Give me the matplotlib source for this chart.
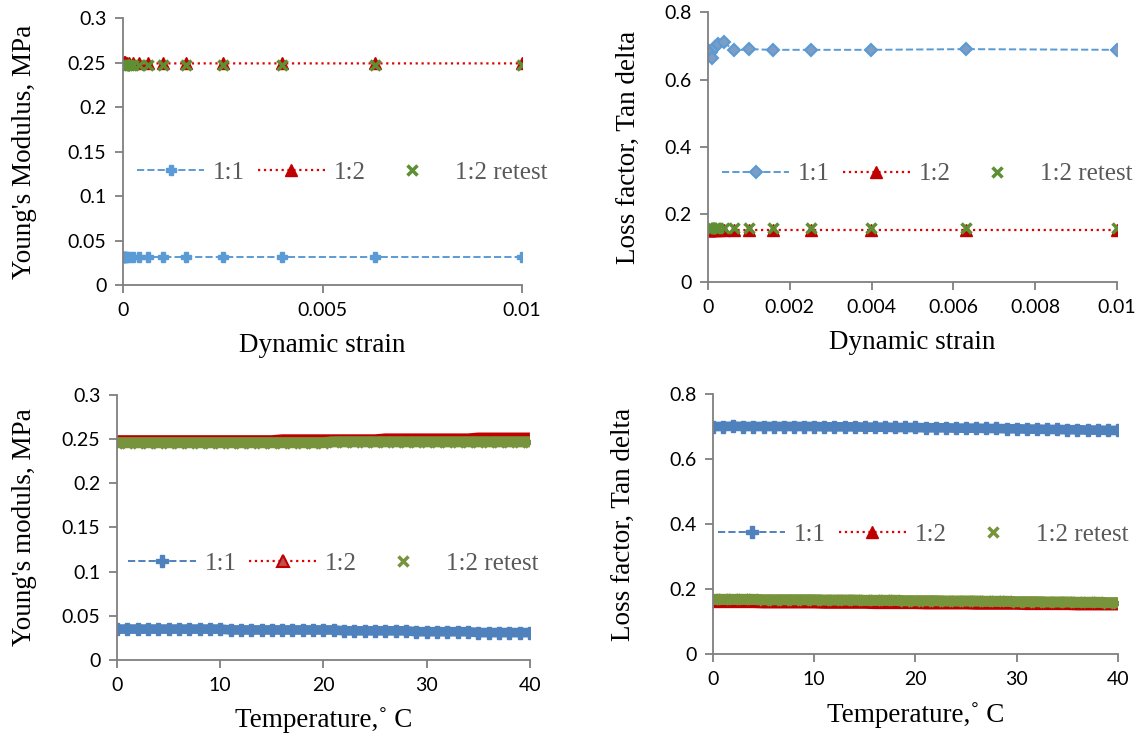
import numpy as np
import matplotlib.pyplot as plt

# =========================
# DATA
# =========================
strain = [0.00001, 0.0000158, 0.0000251, 0.0000398, 0.0000631, 0.0001, 0.000158,
          0.000251, 0.000398, 0.000631, 0.001, 0.00158, 0.00251, 0.00398, 0.00631, 0.01]

mod_11_s = [0.031, 0.031, 0.031, 0.031, 0.031, 0.031, 0.031, 0.031,
            0.031, 0.031, 0.031, 0.031, 0.031, 0.031, 0.031, 0.031]
mod_12_s = [0.250, 0.251, 0.250, 0.251, 0.250, 0.250, 0.250, 0.250,
            0.249, 0.249, 0.249, 0.249, 0.249, 0.249, 0.249, 0.249]
mod_12r_s = [0.247, 0.247, 0.247, 0.247, 0.247, 0.247, 0.247, 0.247,
             0.247, 0.247, 0.247, 0.247, 0.247, 0.247, 0.247, 0.247]

tan_11_s = [0.685, 0.685, 0.683, 0.680, 0.683, 0.665, 0.697, 0.705,
            0.710, 0.686, 0.690, 0.688, 0.688, 0.688, 0.690, 0.688]
tan_12_s = [0.155, 0.155, 0.155, 0.155, 0.155, 0.155, 0.155, 0.155,
            0.155, 0.155, 0.155, 0.155, 0.155, 0.155, 0.155, 0.155]
tan_12r_s = [0.160, 0.160, 0.160, 0.160, 0.160, 0.160, 0.160, 0.160,
             0.160, 0.160, 0.160, 0.160, 0.160, 0.160, 0.160, 0.160]

temp = [0, 1, 2, 3, 4, 5, 6, 7, 8, 9, 10, 11, 12, 13, 14, 15, 16, 17, 18, 19, 20,
        21, 22, 23, 24, 25, 26, 27, 28, 29, 30, 31, 32, 33, 34, 35, 36, 37, 38, 39, 40]

mod_11_t = [0.035, 0.035, 0.035, 0.035, 0.035, 0.035, 0.035, 0.035, 0.035, 0.035, 0.035,
            0.034, 0.034, 0.034, 0.034, 0.034, 0.034, 0.034, 0.034, 0.034, 0.034,
            0.034, 0.033, 0.033, 0.033, 0.033, 0.033, 0.033, 0.033, 0.032, 0.032,
            0.032, 0.032, 0.032, 0.032, 0.031, 0.031, 0.031, 0.031, 0.031, 0.031]
mod_12_t = [0.249, 0.249, 0.249, 0.249, 0.249, 0.249, 0.249, 0.249, 0.249, 0.249, 0.249,
            0.249, 0.249, 0.249, 0.249, 0.249, 0.250, 0.250, 0.250, 0.250, 0.250,
            0.250, 0.250, 0.250, 0.250, 0.250, 0.251, 0.251, 0.251, 0.251, 0.251,
            0.251, 0.251, 0.251, 0.251, 0.252, 0.252, 0.252, 0.252, 0.252, 0.252]
mod_12r_t = [0.246, 0.246, 0.246, 0.246, 0.246, 0.246, 0.246, 0.246, 0.246, 0.246, 0.246,
             0.246, 0.246, 0.246, 0.246, 0.246, 0.246, 0.246, 0.246, 0.246, 0.246,
             0.247, 0.247, 0.247, 0.247, 0.247, 0.247, 0.247, 0.247, 0.247, 0.247,
             0.247, 0.247, 0.247, 0.247, 0.247, 0.247, 0.247, 0.247, 0.247, 0.247]

tan_11_t = [0.700, 0.700, 0.701, 0.700, 0.700, 0.700, 0.700, 0.700, 0.700, 0.700, 0.700,
            0.699, 0.699, 0.699, 0.699, 0.698, 0.698, 0.698, 0.697, 0.697, 0.697,
            0.696, 0.696, 0.696, 0.695, 0.695, 0.695, 0.694, 0.694, 0.693, 0.693,
            0.692, 0.692, 0.691, 0.691, 0.690, 0.690, 0.689, 0.689, 0.688, 0.688]
tan_12_t = [0.156, 0.156, 0.156, 0.156, 0.156, 0.155, 0.155, 0.155, 0.155, 0.155, 0.155,
            0.154, 0.154, 0.154, 0.154, 0.154, 0.153, 0.153, 0.153, 0.153, 0.153,
            0.152, 0.152, 0.152, 0.152, 0.152, 0.151, 0.151, 0.151, 0.151, 0.151,
            0.150, 0.150, 0.150, 0.150, 0.150, 0.149, 0.149, 0.149, 0.149, 0.149]
tan_12r_t = [0.168, 0.168, 0.168, 0.168, 0.168, 0.167, 0.167, 0.167, 0.167, 0.167, 0.167,
             0.166, 0.166, 0.166, 0.166, 0.165, 0.165, 0.165, 0.165, 0.164, 0.164,
             0.164, 0.164, 0.163, 0.163, 0.163, 0.163, 0.162, 0.162, 0.162, 0.161,
             0.161, 0.161, 0.160, 0.160, 0.160, 0.159, 0.159, 0.159, 0.158, 0.158]

labels = ["1:1", "1:2", "1:2 retest"]

# =========================
# STYLE
# =========================
SERIF = "Liberation Serif"
SANS = "Lato"
SPINE = "#7F7F7F"
BLUE_L = "#5B9BD5"
BLUE_D = "#4F81BD"
RED = "#C00000"
RED_LINE = "#E00000"
GREEN_L = "#5E8F32"
GREEN_D = "#77933C"


def style_axes(ax, xlim, ylim, xticks, yticks, xlabel, ylabel, ylab_x):
    ax.set_xlim(*xlim)
    ax.set_ylim(*ylim)
    ax.set_xticks(xticks)
    ax.set_yticks(yticks)
    ax.set_xticklabels(["%g" % v for v in xticks])
    ax.set_yticklabels(["%g" % v for v in yticks])
    for s in ["top", "right"]:
        ax.spines[s].set_visible(False)
    for s in ["left", "bottom"]:
        ax.spines[s].set_color(SPINE)
        ax.spines[s].set_linewidth(1.3)
    ax.tick_params(direction="out", length=6, width=1.3, color=SPINE,
                   labelsize=14, labelcolor="#000000", pad=6)
    for t in ax.get_xticklabels() + ax.get_yticklabels():
        t.set_family(SANS)
    ax.set_xlabel(xlabel, family=SERIF, fontsize=19.5, labelpad=10)
    ax.set_ylabel(ylabel, family=SERIF, fontsize=19.5)
    ax.yaxis.set_label_coords(ylab_x, 0.5)


def legend(ax, x, y):
    ax.legend(loc="center left", bbox_to_anchor=(x, y), ncol=3, frameon=False,
              prop={"family": SERIF, "size": 18}, labelcolor="#595959",
              handlelength=2.7, handletextpad=0.35, columnspacing=0.5,
              borderaxespad=0, borderpad=0)


fig = plt.figure(figsize=(11.47, 7.38), dpi=100)

# ---- top left: modulus vs strain
ax1 = fig.add_axes([0.1072, 0.6138, 0.348, 0.3618])
ax1.plot(strain, mod_11_s, ls="--", lw=1.4, color=BLUE_L, marker="P",
         ms=7, mec=BLUE_L, label=labels[0])
ax1.plot(strain, mod_12_s, ls=":", lw=1.6, color=RED_LINE, marker="^",
         ms=8, mfc=RED, mec=RED, label=labels[1])
ax1.plot(strain, mod_12r_s, ls="none", marker="x", ms=7, mew=2.5,
         color=GREEN_L, label=labels[2])
style_axes(ax1, (0, 0.01), (0, 0.3), [0, 0.005, 0.01],
           [0, 0.05, 0.1, 0.15, 0.2, 0.25, 0.3],
           "Dynamic strain", "Young's Modulus, MPa", -0.215)
legend(ax1, 0.035, 0.42)

# ---- top right: loss factor vs strain
ax2 = fig.add_axes([0.6173, 0.6179, 0.3565, 0.3658])
ax2.plot(strain, tan_11_s, ls="--", lw=1.4, color=BLUE_L, marker="D",
         ms=6, mfc="#7F9CC4", mec=BLUE_L, mew=1.5, label=labels[0])
ax2.plot(strain, tan_12_s, ls=":", lw=1.6, color=RED_LINE, marker="^",
         ms=8, mfc=RED, mec=RED, label=labels[1])
ax2.plot(strain, tan_12r_s, ls="none", marker="x", ms=7, mew=2.5,
         color=GREEN_L, label=labels[2])
style_axes(ax2, (0, 0.01), (0, 0.8), [0, 0.002, 0.004, 0.006, 0.008, 0.01],
           [0, 0.2, 0.4, 0.6, 0.8],
           "Dynamic strain", "Loss factor, Tan delta", -0.165)
legend(ax2, 0.034, 0.40)

# ---- bottom left: modulus vs temperature (dense readings -> solid band)
ax3 = fig.add_axes([0.1020, 0.1057, 0.3600, 0.3591])
ax3.plot(temp, mod_11_t, ls="-", lw=7, color=BLUE_D, solid_capstyle="butt")
ax3.plot(temp, mod_12_t, ls="-", lw=7, color=RED, solid_capstyle="butt")
ax3.plot(temp, mod_12r_t, ls="-", lw=8, color=GREEN_D, solid_capstyle="butt")
ax3.plot(temp, mod_11_t, ls="none", marker="P", ms=8, color=BLUE_D)
ax3.plot(temp, mod_12r_t, ls="none", marker="x", ms=7, mew=2.5, color=GREEN_D)
ax3.plot([], [], ls="--", lw=1.4, color=BLUE_D, marker="P", ms=8, label=labels[0])
ax3.plot([], [], ls=":", lw=1.6, color=RED_LINE, marker="^", ms=9,
         mfc="#C0504D", mec=RED, mew=1.5, label=labels[1])
ax3.plot([], [], ls="none", marker="x", ms=7, mew=2.5, color=GREEN_D, label=labels[2])
style_axes(ax3, (0, 40), (0, 0.3), [0, 10, 20, 30, 40],
           [0, 0.05, 0.1, 0.15, 0.2, 0.25, 0.3],
           "Temperature,˚ C", "Young's moduls, MPa", -0.193)
legend(ax3, 0.027, 0.364)

# ---- bottom right: loss factor vs temperature
ax4 = fig.add_axes([0.6216, 0.1138, 0.3531, 0.3523])
ax4.plot(temp, tan_11_t, ls="-", lw=7, color=BLUE_D, solid_capstyle="butt")
ax4.plot(temp, tan_12_t, ls="-", lw=7, color=RED, solid_capstyle="butt")
ax4.plot(temp, tan_12r_t, ls="-", lw=8, color=GREEN_D, solid_capstyle="butt")
ax4.plot(temp, tan_11_t, ls="none", marker="P", ms=8, color=BLUE_D)
ax4.plot(temp, tan_12r_t, ls="none", marker="x", ms=7, mew=2.5, color=GREEN_D)
ax4.plot([], [], ls="--", lw=1.4, color=BLUE_D, marker="P", ms=8, label=labels[0])
ax4.plot([], [], ls=":", lw=1.6, color=RED_LINE, marker="^", ms=9,
         mfc=RED, mec=RED, label=labels[1])
ax4.plot([], [], ls="none", marker="x", ms=7, mew=2.5, color=GREEN_D, label=labels[2])
style_axes(ax4, (0, 40), (0, 0.8), [0, 10, 20, 30, 40],
           [0, 0.2, 0.4, 0.6, 0.8],
           "Temperature,˚ C", "Loss factor, Tan delta", -0.19)
legend(ax4, 0.012, 0.46)

fig.savefig("out.png", dpi=100)
